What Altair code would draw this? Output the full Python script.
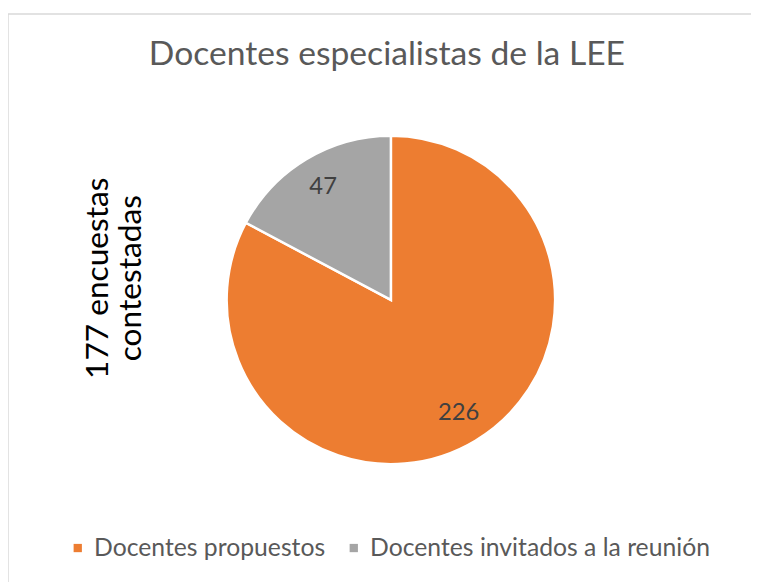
import altair as alt
import pandas as pd

categories = ["Docentes propuestos", "Docentes invitados a la reunión"]
values = [226, 47]
colors = ["#ED7D31", "#A5A5A5"]
title_text = "Docentes especialistas de la LEE"
side_text = ["177 encuestas", "contestadas"]

df = pd.DataFrame({"cat": categories, "val": values, "order": [0, 1]})

FONT = "Lato"
CX, CY, R = 387, 292, 166

frame = alt.Chart(pd.DataFrame({"a": [0]})).mark_rect(
    fill="white", stroke="#D9D9D9", strokeWidth=1.5
).encode(x=alt.value(0), x2=alt.value(760), y=alt.value(3), y2=alt.value(590))

base = alt.Chart(df).encode(
    theta=alt.Theta("val:Q", stack=True),
    order=alt.Order("order:Q"),
)

pie = base.mark_arc(outerRadius=R, stroke="white", strokeWidth=2.5).encode(
    x=alt.value(CX), y=alt.value(CY),
    color=alt.Color("cat:N", sort=categories,
                    scale=alt.Scale(domain=categories, range=colors),
                    legend=alt.Legend(title=None, orient="none", direction="horizontal",
                                      legendX=58, legendY=530,
                                      symbolType="square", symbolSize=70,
                                      labelOffset=4,
                                      labelFont=FONT, labelFontSize=25,
                                      labelColor="#595959", columnPadding=16,
                                      labelLimit=500, symbolStrokeWidth=0)),
)

labels = base.mark_text(radius=133, font=FONT, fontSize=24, color="#404040").encode(
    x=alt.value(CX), y=alt.value(CY),
    text=alt.Text("val:Q"),
)

side = alt.Chart(pd.DataFrame({"a": [0]})).mark_text(
    text=side_text, angle=270, font=FONT, fontSize=32, color="black",
    lineHeight=33, align="center", baseline="middle"
).encode(x=alt.value(91), y=alt.value(270))

title = alt.Chart(pd.DataFrame({"a": [0]})).mark_text(
    text=title_text, font=FONT, fontSize=34, color="#595959",
    align="center", baseline="middle"
).encode(x=alt.value(383), y=alt.value(45))

chart = alt.layer(frame, pie, labels, side, title).properties(
    width=751, height=574, padding=0, autosize="none",
).configure_view(stroke=None)

chart.save("out.html", embed_options={"renderer": "svg", "actions": False})
